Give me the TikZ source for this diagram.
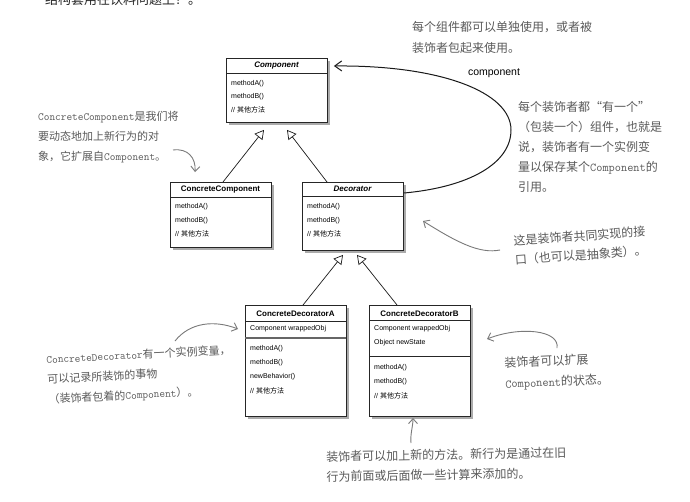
\documentclass[tikz,border=0pt]{standalone}
\usepackage{fontspec}
\setmainfont{Liberation Sans}
\newfontfamily\cjk{Noto Sans CJK SC}
\usetikzlibrary{arrows.meta,shadows}
\definecolor{anncol}{HTML}{5A5A5A}
\definecolor{arrcol}{HTML}{7A7A7A}
\begin{document}
\begin{tikzpicture}[x=1pt,y=-1pt,
  umlbox/.style={draw=black!85, line width=0.9pt, fill=white, inner sep=0pt, anchor=north west,
    drop shadow={shadow xshift=3pt,shadow yshift=-3pt,fill=black!60,opacity=0.55}},
  sepline/.style={draw=black!85, line width=0.8pt},
  umltitle/.style={font=\bfseries\fontsize{8}{9}\selectfont, inner sep=0pt},
  umlabs/.style={font=\bfseries\itshape\fontsize{8}{9}\selectfont, inner sep=0pt},
  umlitem/.style={font=\fontsize{7}{8}\selectfont, inner sep=0pt, anchor=west},
  inherit/.style={draw=black!90, line width=0.7pt, -{Triangle[open,length=9pt,width=10pt,fill=white]}},
  assoc/.style={draw=black!90, line width=1pt, -{Straight Barb[length=7pt,width=10pt]}},
  annot/.style={font=\cjk\fontsize{12}{20}\selectfont, text=anncol, align=left, inner sep=0pt, anchor=north west},
  annarrow/.style={draw=arrcol, line width=0.9pt, -{Straight Barb[length=5pt,width=9pt]}},
]
\fill[white] (0,0) rectangle (690,501);
\useasboundingbox (0,0) rectangle (690,501);

% cut-off heading
\begin{scope}
\clip (0,0) rectangle (690,501);
\node[font=\cjk\fontsize{13}{13}\selectfont, text=black!85, anchor=base west, inner sep=0pt] (head) at (45,4) {结构套用在饮料问题上？。};
\end{scope}

% Component
\node[umlbox, minimum width=101pt, minimum height=64pt] (comp) at (226,58) {};
\draw[sepline] (226,73) -- (327,73);
\node[umlabs] (compT) at (276.5,65.5) {Component};
\node[umlitem] (compA) at (231,84) {methodA()};
\node[umlitem] (compB) at (231,97) {methodB()};
\node[umlitem] (compC) at (231,110) {// {\cjk 其他方法}};

% ConcreteComponent
\node[umlbox, minimum width=101pt, minimum height=65pt] (cc) at (170,182) {};
\draw[sepline] (170,197) -- (271,197);
\node[umltitle] (ccT) at (220.5,189.5) {ConcreteComponent};
\node[umlitem] (ccA) at (175,207) {methodA()};
\node[umlitem] (ccB) at (175,221) {methodB()};
\node[umlitem] (ccC) at (175,234) {// {\cjk 其他方法}};

% Decorator
\node[umlbox, minimum width=101pt, minimum height=68pt] (dec) at (302,182) {};
\draw[sepline] (302,196) -- (403,196);
\node[umlabs] (decT) at (352.5,189) {Decorator};
\node[umlitem] (decA) at (307,207) {methodA()};
\node[umlitem] (decB) at (307,221) {methodB()};
\node[umlitem] (decC) at (307,234) {// {\cjk 其他方法}};

% ConcreteDecoratorA
\node[umlbox, minimum width=101pt, minimum height=111pt] (cda) at (245,305) {};
\draw[sepline] (245,321) -- (346,321);
\node[umltitle] (cdaT) at (295.5,313.5) {ConcreteDecoratorA};
\node[umlitem] (cdaF) at (250,329) {Component wrappedObj};
\draw[sepline, draw=black!60, line width=1.3pt] (245,338) -- (346,338);
\node[umlitem] (cdaA) at (250,349) {methodA()};
\node[umlitem] (cdaB) at (250,363) {methodB()};
\node[umlitem] (cdaN) at (250,377) {newBehavior()};
\node[umlitem] (cdaC) at (250,391) {// {\cjk 其他方法}};

% ConcreteDecoratorB
\node[umlbox, minimum width=101pt, minimum height=111pt] (cdb) at (369,305) {};
\draw[sepline] (369,320) -- (470,320);
\node[umltitle] (cdbT) at (419.5,313.5) {ConcreteDecoratorB};
\node[umlitem] (cdbF) at (374,329) {Component wrappedObj};
\node[umlitem] (cdbS) at (374,343) {Object newState};
\draw[sepline] (369,356) -- (470,356);
\node[umlitem] (cdbA) at (374,368) {methodA()};
\node[umlitem] (cdbB) at (374,382) {methodB()};
\node[umlitem] (cdbC) at (374,396) {// {\cjk 其他方法}};

% inheritance
\draw[inherit] ([xshift=53pt]cc.north west) -- ([xshift=38pt,yshift=-7pt]comp.south west);
\draw[inherit] ([xshift=25pt]dec.north west) -- ([xshift=61pt,yshift=-7pt]comp.south west);
\draw[inherit] ([xshift=58pt]cda.north west) -- ([xshift=41pt,yshift=-4pt]dec.south west);
\draw[inherit] ([xshift=28pt]cdb.north west) -- ([xshift=55pt,yshift=-4pt]dec.south west);

% association
\draw[assoc] ([yshift=-11pt]dec.north east) .. controls (470,187) and (511,163) .. (511,130)
   .. controls (511,92) and (440,65) .. ([xshift=6pt,yshift=-8pt]comp.north east);
\node[font=\fontsize{10.5}{12}\selectfont, inner sep=0pt] (assocL) at (494,73) {component};

% annotations
\node[annot, font=\cjk\fontsize{12}{21}\selectfont] (n1) at (412,21) {每个组件都可以单独使用，或者被\\装饰者包起来使用。};
\node[annot] (n2) at (518,101) {每个装饰者都“有一个”\\（包装一个）组件，也就是\\说，装饰者有一个实例变\\量以保存某个{\ttfamily Component}的\\引用。};
\node[annot, font=\cjk\fontsize{11}{20}\selectfont] (n3) at (38,111) {{\ttfamily ConcreteComponent}是我们将\\要动态地加上新行为的对\\象，它扩展自{\ttfamily Component}。};
\node[annot, font=\cjk\fontsize{12}{19}\selectfont, rotate=4] (n4) at (513,235) {这是装饰者共同实现的接\\口（也可以是抽象类）。};
\node[annot, font=\cjk\fontsize{11}{20}\selectfont, rotate=3] (n5) at (46,354) {{\ttfamily ConcreteDecorator}有一个实例变量，\\可以记录所装饰的事物\\（装饰者包着的{\ttfamily Component}）。};
\node[annot, font=\cjk\fontsize{12}{21}\selectfont, rotate=2.5] (n6) at (504,357) {装饰者可以扩展\\{\ttfamily Component}的状态。};
\node[annot, rotate=1] (n7) at (326,451) {装饰者可以加上新的方法。新行为是通过在旧\\行为前面或后面做一些计算来添加的。};

% annotation arrows
\coordinate (a3s) at (173,150); \coordinate (a3e) at (195,172);
\draw[annarrow] (a3s) .. controls (188,148) and (196,158) .. (a3e);
\coordinate (a4s) at (500,250); \coordinate (a4e) at (423,221);
\draw[annarrow] (a4s) .. controls (480,254) and (458,243) .. (a4e);
\coordinate (a5s) at (175,341); \coordinate (a5e) at (238,329);
\draw[annarrow] (a5s) .. controls (190,322) and (215,320) .. (a5e);
\coordinate (a6s) at (557,348); \coordinate (a6e) at (487,339);
\draw[annarrow] (a6s) .. controls (560,330) and (520,326) .. (a6e);
\coordinate (a7s) at (411,443); \coordinate (a7e) at (413,418);
\draw[annarrow] (a7s) .. controls (410,435) and (413,426) .. (a7e);
\end{tikzpicture}
\end{document}
